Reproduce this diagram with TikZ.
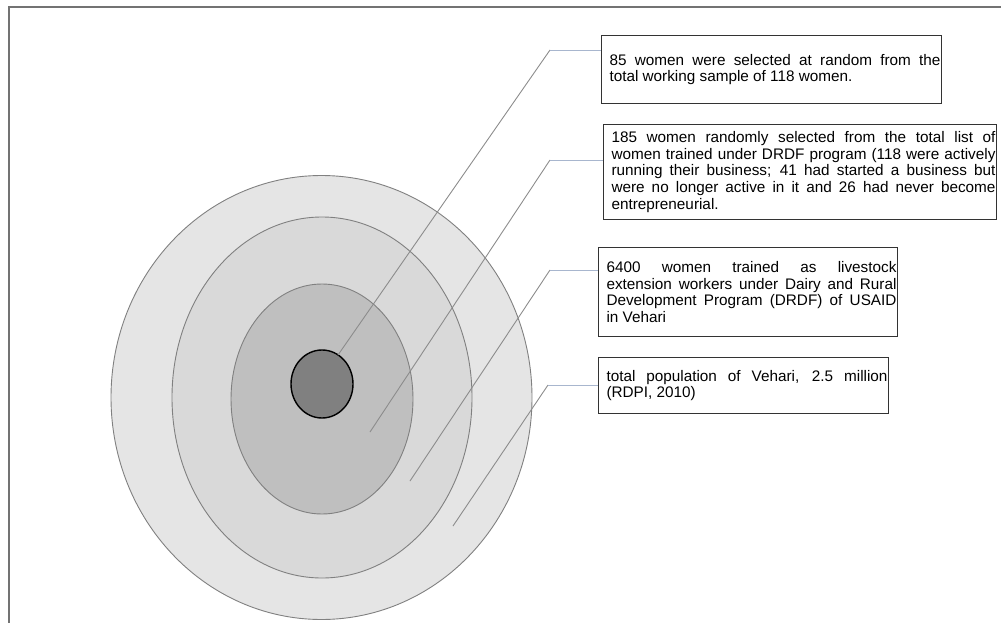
\documentclass[tikz,border=0pt]{standalone}
\usepackage{fontspec}
\setmainfont{Liberation Sans}
\usetikzlibrary{shapes.geometric}
% justified paragraph, 8pt in from the left border and 1pt from the right;
% interword spaces may stretch but never shrink
\newcommand\boxtext[2]{\hspace*{8pt}\parbox{#1}{\hyphenpenalty=10000\exhyphenpenalty=10000
  \spaceskip=.278em plus .8em\relax\xspaceskip=\spaceskip #2}\hspace*{1pt}}
\begin{document}
\begin{tikzpicture}[x=1pt,y=-1pt,
  ring/.style={draw=black!50,line width=0.9pt},
  core/.style={draw=black,line width=1.4pt,fill=black!50},
  infobox/.style={draw=black!80,line width=1pt,anchor=north west,
    inner xsep=0pt,inner ysep=0pt,font=\fontsize{15.3}{16.6}\selectfont},
  leader/.style={draw=black!45,line width=0.9pt},
  tail/.style={draw={rgb,255:red,168;green,182;blue,206},line width=0.9pt}]
\useasboundingbox (0,0) rectangle (1001,623);
% page frame
\draw[black!55,line width=1.5pt] (9,623) -- (9,7) -- (1001,7);

% nested rings
\node[ring,ellipse,fill=black!10,minimum width=421pt,minimum height=444pt,inner sep=0pt] (r1) at (321.5,397.5) {};
\node[ring,ellipse,fill=black!15,minimum width=300pt,minimum height=361pt,inner sep=0pt] (r2) at (322,397.5) {};
\node[ring,ellipse,fill=black!25,minimum width=182pt,minimum height=230pt,inner sep=0pt] (r3) at (322,399) {};
\node[core,ellipse,minimum width=62pt,minimum height=68pt,inner sep=0pt] (r4) at (322,384) {};

% descriptions
\node[infobox,minimum width=340pt,minimum height=68pt] (b1) at (601,35)
  {\boxtext{331pt}{85 women were selected at random from the total working sample of 118 women.}};
\node[infobox,minimum width=393pt,minimum height=95pt] (b2) at (603,124)
  {\boxtext{384pt}{185 women randomly selected from the total list of women trained under DRDF program (118 were actively running their business; 41 had started a business but were no longer active in it and 26 had never become entrepreneurial.}};
\node[infobox,minimum width=299pt,minimum height=89pt] (b3) at (598,247)
  {\boxtext{290pt}{6400 women trained as livestock extension workers under Dairy and Rural Development Program (DRDF) of USAID in Vehari}};
\node[infobox,minimum width=290pt,minimum height=56pt] (b4) at (598,357)
  {\boxtext{281pt}{total population of Vehari, 2.5 million (RDPI, 2010)}};

% leader lines
\coordinate (p1) at (338,355); \coordinate (k1) at (550,50);
\coordinate (p2) at (370,432); \coordinate (k2) at (550,160);
\coordinate (p3) at (410,481); \coordinate (k3) at (550,270);
\coordinate (p4) at (453,526); \coordinate (k4) at (548,385);
\draw[leader] (p1) -- (k1);
\draw[tail] (k1) -- (k1 -| b1.west);
\draw[leader] (p2) -- (k2);
\draw[tail] (k2) -- (k2 -| b2.west);
\draw[leader] (p3) -- (k3);
\draw[tail] (k3) -- (k3 -| b3.west);
\draw[leader] (p4) -- (k4);
\draw[tail] (k4) -- (k4 -| b4.west);
\end{tikzpicture}
\end{document}
